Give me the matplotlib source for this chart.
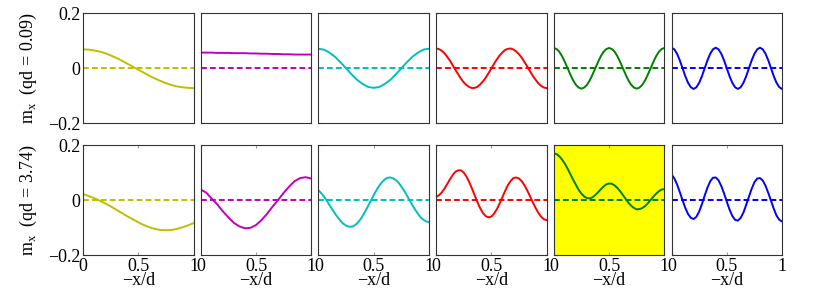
import numpy as np
import matplotlib
matplotlib.use("Agg")
from matplotlib import pyplot as plt

plt.rcParams['font.family'] = ['Liberation Serif', 'DejaVu Serif']

# values, m_x along -x/d
top_1 = [0.069, 0.068, 0.065, 0.061, 0.055, 0.047, 0.038, 0.028, 0.017, 0.006, -0.005,
         -0.016, -0.027, -0.037, -0.046, -0.054, -0.061, -0.066, -0.069, -0.071, -0.072]
top_2 = [0.057, 0.057, 0.057, 0.056, 0.056, 0.056, 0.055, 0.055, 0.055, 0.054, 0.054,
         0.053, 0.053, 0.052, 0.052, 0.051, 0.051, 0.050, 0.050, 0.050, 0.050]
top_3 = [0.071, 0.068, 0.057, 0.042, 0.022, 0.0, -0.022, -0.042, -0.057, -0.068, -0.071,
         -0.068, -0.057, -0.042, -0.022, 0.0, 0.022, 0.042, 0.057, 0.068, 0.071]
top_4 = [0.072, 0.070, 0.064, 0.055, 0.042, 0.028, 0.011, -0.006, -0.022, -0.038, -0.051,
         -0.061, -0.068, -0.072, -0.071, -0.067, -0.058, -0.047, -0.033, -0.017, 0.0,
         0.017, 0.033, 0.047, 0.058, 0.067, 0.071, 0.072, 0.068, 0.061, 0.051,
         0.038, 0.022, 0.006, -0.011, -0.028, -0.042, -0.055, -0.064, -0.070, -0.072]
top_5 = [0.074, 0.070, 0.060, 0.044, 0.023, 0.0, -0.023, -0.044, -0.060, -0.070, -0.074,
         -0.070, -0.060, -0.044, -0.023, 0.0, 0.023, 0.044, 0.060, 0.070, 0.074,
         0.070, 0.060, 0.044, 0.023, 0.0, -0.023, -0.044, -0.060, -0.070, -0.074,
         -0.070, -0.060, -0.044, -0.023, 0.0, 0.023, 0.044, 0.060, 0.070, 0.074]
top_6 = [0.075, 0.069, 0.053, 0.029, 0.0, -0.029, -0.053, -0.069, -0.075, -0.069, -0.053,
         -0.029, 0.0, 0.029, 0.053, 0.069, 0.075, 0.069, 0.053, 0.029, 0.0,
         -0.029, -0.053, -0.069, -0.075, -0.069, -0.053, -0.029, 0.0, 0.029, 0.053,
         0.069, 0.075, 0.069, 0.053, 0.029, 0.0, -0.029, -0.053, -0.069, -0.075]

bot_1 = [0.023, 0.016, 0.008, -0.001, -0.011, -0.022, -0.034, -0.046, -0.058, -0.069, -0.080,
         -0.090, -0.098, -0.104, -0.108, -0.109, -0.108, -0.104, -0.098, -0.091, -0.083]
bot_2 = [0.039, 0.028, 0.006, -0.015, -0.040, -0.062, -0.082, -0.095, -0.102, -0.100, -0.090,
         -0.072, -0.049, -0.023, 0.001, 0.027, 0.050, 0.070, 0.081, 0.084, 0.079]
bot_3 = [0.037, 0.026, 0.014, -0.001, -0.017, -0.033, -0.048, -0.062, -0.075, -0.085, -0.092,
         -0.096, -0.096, -0.092, -0.084, -0.072, -0.057, -0.039, -0.020, -0.001, 0.019,
         0.037, 0.053, 0.066, 0.076, 0.082, 0.083, 0.080, 0.074, 0.064, 0.050,
         0.035, 0.018, 0.000, -0.018, -0.034, -0.049, -0.062, -0.071, -0.077, -0.079]
bot_4 = [0.012, 0.018, 0.028, 0.042, 0.059, 0.076, 0.092, 0.104, 0.109, 0.109, 0.101,
         0.086, 0.066, 0.042, 0.017, -0.008, -0.030, -0.047, -0.058, -0.062, -0.059,
         -0.048, -0.032, -0.011, 0.012, 0.035, 0.056, 0.071, 0.081, 0.083, 0.079,
         0.069, 0.054, 0.035, 0.014, -0.008, -0.028, -0.046, -0.060, -0.069, -0.072]
bot_5 = [0.170, 0.168, 0.160, 0.148, 0.133, 0.115, 0.095, 0.075, 0.056, 0.038, 0.024,
         0.014, 0.008, 0.007, 0.011, 0.019, 0.029, 0.040, 0.050, 0.058, 0.061,
         0.060, 0.054, 0.045, 0.033, 0.019, 0.005, -0.009, -0.020, -0.028, -0.033,
         -0.032, -0.028, -0.021, -0.011, 0.001, 0.013, 0.024, 0.033, 0.039, 0.041]
bot_6 = [0.094, 0.080, 0.058, 0.030, 0.000, -0.028, -0.050, -0.064, -0.068, -0.060, -0.041,
         -0.014, 0.017, 0.046, 0.069, 0.082, 0.083, 0.073, 0.052, 0.025, -0.005,
         -0.034, -0.057, -0.071, -0.074, -0.064, -0.045, -0.017, 0.013, 0.042, 0.066,
         0.079, 0.081, 0.072, 0.053, 0.027, -0.002, -0.031, -0.056, -0.071, -0.077]

rows = [[top_1, top_2, top_3, top_4, top_5, top_6],
        [bot_1, bot_2, bot_3, bot_4, bot_5, bot_6]]
row_labels = ['m$_\\mathregular{x}$  (qd = 0.09)', 'm$_\\mathregular{x}$  (qd = 3.74)']
colors = ['y', 'm', 'c', 'r', 'g', 'b']
highlight = (1, 4)

fig = plt.figure(figsize=(8.3, 2.94), dpi=100)
W, H = 830.0, 294.0
left0, step, w = 83 / W, 117.7 / W, 110.6 / W
h = 110 / H
bottoms = [(H - 123.3) / H, (H - 255.3) / H]
fs = 13

for r in range(2):
    for c in range(6):
        ax = fig.add_axes([left0 + c * step, bottoms[r], w, h])
        vals = rows[r][c]
        x = np.linspace(0, 1, len(vals))
        ax.axhline(0, color=colors[c], lw=1.4, ls=(0, (3, 1.6)))
        ax.plot(x, vals, color=colors[c], lw=1.4)
        if (r, c) == highlight:
            ax.set_facecolor('#ffff00')
        ax.set_xlim(0, 1)
        ax.set_ylim(-0.2, 0.2)
        for s in ax.spines.values():
            s.set_color('#333333')
            s.set_linewidth(0.8)
        ax.tick_params(direction='in', length=2, color='0.6', top=True, right=False,
                       labelsize=fs, pad=2)
        ax.set_yticks([-0.2, 0, 0.2])
        if c == 0:
            ax.set_yticklabels(['\u22120.2', '0', '0.2'])
            ax.set_ylabel(row_labels[r], fontsize=fs)
            ax.yaxis.set_label_coords(-0.40, 0.5)
        else:
            ax.set_yticklabels([])
        if r == 1:
            ax.set_xticks([0, 0.5, 1])
            ax.set_xticklabels(['0', '0.5', '1'])
            ax.set_xlabel('\u2212x/d', fontsize=fs, labelpad=-2)
        else:
            ax.set_xticks([])

fig.savefig('out.png', dpi=100)
